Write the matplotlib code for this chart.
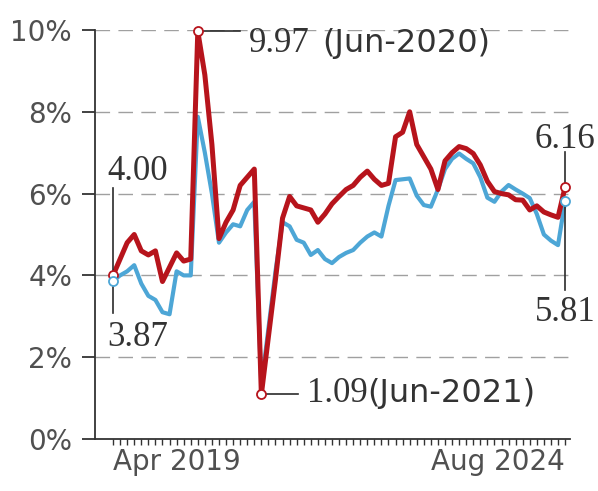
import matplotlib
matplotlib.use("Agg")
import matplotlib.pyplot as plt

# ---- data ----
red = [4.00, 4.4, 4.8, 5.0, 4.6, 4.5, 4.6, 3.85, 4.2, 4.55, 4.35, 4.4,
       9.97, 8.9, 7.2, 4.9, 5.3, 5.6, 6.2, 6.4, 6.6, 1.09, 2.5, 3.9, 5.4,
       5.93, 5.7, 5.65, 5.6, 5.3, 5.5, 5.75, 5.93, 6.1, 6.2, 6.4, 6.55,
       6.35, 6.2, 6.25, 7.39, 7.5, 8.0, 7.2, 6.9, 6.6, 6.1, 6.8, 7.0, 7.15,
       7.1, 6.98, 6.7, 6.3, 6.05, 6.0, 5.97, 5.85, 5.84, 5.6, 5.7, 5.55,
       5.48, 5.42, 6.16]
blue = [3.87, 4.0, 4.1, 4.25, 3.8, 3.5, 3.4, 3.1, 3.05, 4.1, 4.0, 4.0,
        7.88, 7.0, 6.0, 4.8, 5.05, 5.25, 5.2, 5.6, 5.8, 1.3, 2.7, 4.1, 5.3,
        5.2, 4.87, 4.8, 4.5, 4.62, 4.4, 4.3, 4.45, 4.55, 4.62, 4.8, 4.95,
        5.05, 4.95, 5.7, 6.33, 6.35, 6.37, 5.95, 5.72, 5.68, 6.1, 6.6, 6.85,
        6.98, 6.85, 6.74, 6.4, 5.9, 5.8, 6.05, 6.21, 6.1, 6.0, 5.89, 5.5,
        5.0, 4.85, 4.74, 5.81]
first_label = "Apr 2019"
last_label = "Aug 2024"
y_ticks = [0, 2, 4, 6, 8, 10]
y_labels = ["0%", "2%", "4%", "6%", "8%", "10%"]
max_label = ("9.97", "(Jun-2020)")
min_label = ("1.09", "(Jun-2021)")

RED = "#b7141c"
BLUE = "#4da6d6"
TXT = "#333333"
TICK = "#505050"

n = len(red)
x = list(range(n))
i_max = red.index(max(red))
i_min = red.index(min(red))

fig = plt.figure(figsize=(5.98, 4.91), dpi=100)
ax = fig.add_axes([0.1589, 0.1059, 0.7943, 0.833])
ax.set_xlim(-2.55, 64.7)
ax.set_ylim(0, 10)

# grid
for yv in y_ticks[1:]:
    ax.axhline(yv, color="#a0a0a0", lw=1.0, dashes=(10.5, 6), zorder=1)

ax.plot(x, blue, color=BLUE, lw=3.0, zorder=3, solid_joinstyle="round")
ax.plot(x, red, color=RED, lw=3.6, zorder=4, solid_joinstyle="round")

for s in ["top", "right"]:
    ax.spines[s].set_visible(False)
for s in ["left", "bottom"]:
    ax.spines[s].set_color("#333333")
    ax.spines[s].set_linewidth(1.3)

ax.set_yticks(y_ticks)
ax.set_yticklabels(y_labels, fontsize=20, color=TICK, family="DejaVu Sans")
ax.tick_params(axis="y", length=9.5, width=1.3, color="#333333", pad=7)

ax.set_xticks(x)
xl = [""] * n
xl[0] = first_label
xl[-1] = last_label
ax.set_xticklabels(xl, fontsize=20, color=TICK, family="DejaVu Sans")
ax.tick_params(axis="x", length=4.5, width=1.0, color="#333333", pad=2)
lbls = ax.get_xticklabels()
lbls[0].set_ha("left")
lbls[-1].set_ha("right")

ann = dict(color="#2b2b2b", lw=1.2, zorder=5, clip_on=False)
ser = dict(family="Liberation Serif", fontsize=25, color=TXT)
sans = dict(family="DejaVu Sans", fontsize=23, color=TXT)

# start annotations
ax.plot([0, 0], [red[0], 6.14], **ann)
ax.text(-0.75, 6.33, f"{red[0]:.2f}", ha="left", va="baseline", **ser)
ax.plot([0, 0], [blue[0], 3.08], **ann)
ax.text(-0.75, 2.88, f"{blue[0]:.2f}", ha="left", va="top", **ser)

# end annotations
ax.plot([n - 1, n - 1], [red[-1], 7.02], **ann)
ax.text(n - 1, 7.11, f"{red[-1]:.2f}", ha="center", va="baseline", clip_on=False, **ser)
ax.plot([n - 1, n - 1], [blue[-1], 3.64], **ann)
ax.text(n - 1, 3.5, f"{blue[-1]:.2f}", ha="center", va="top", clip_on=False, **ser)

# max / min annotations
ax.plot([i_max, 18.0], [red[i_max], red[i_max]], **ann)
ax.text(19.3, 9.68, max_label[0], ha="left", va="center", **ser)
ax.text(29.6, 9.68, max_label[1], ha="left", va="center", **sans)
ax.plot([i_min, 26.2], [red[i_min], red[i_min]], **ann)
ax.text(27.4, 1.12, min_label[0], ha="left", va="center", **ser)
ax.text(36.0, 1.12, min_label[1], ha="left", va="center", **sans)

mk = dict(marker="o", ms=6.5, mfc="white", mew=1.3, ls="none", zorder=6, clip_on=False)
ax.plot([0, i_max, i_min, n - 1], [red[0], red[i_max], red[i_min], red[-1]], mec=RED, **mk)
ax.plot([0, n - 1], [blue[0], blue[-1]], mec=BLUE, **mk)

fig.savefig("out.png", dpi=100)
